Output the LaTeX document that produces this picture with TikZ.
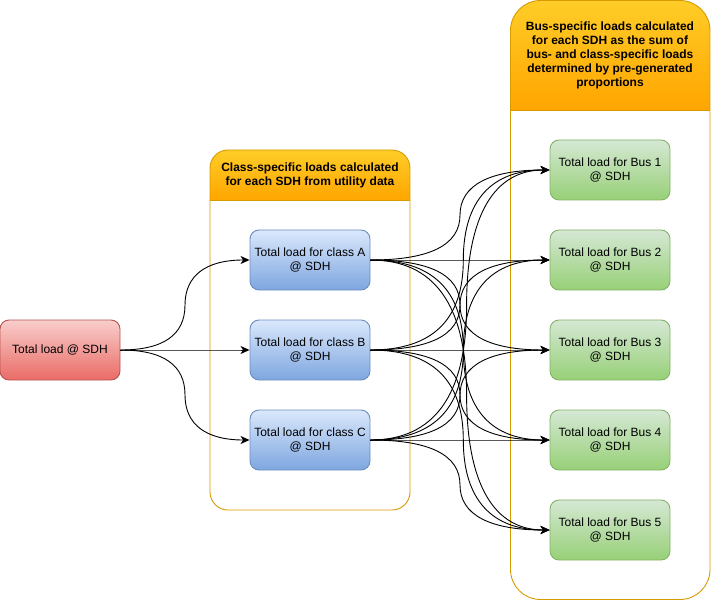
\documentclass[tikz,border=0pt]{standalone}
\usepackage{fontspec}
\setmainfont{Liberation Sans}
\usetikzlibrary{arrows.meta,calc}
\definecolor{redtop}{HTML}{F8CECC}
\definecolor{redbot}{HTML}{EA6B66}
\definecolor{redline}{HTML}{B85450}
\definecolor{bluetop}{HTML}{DAE8FC}
\definecolor{bluebot}{HTML}{7EA6E0}
\definecolor{blueline}{HTML}{6C8EBF}
\definecolor{greentop}{HTML}{D5E8D4}
\definecolor{greenbot}{HTML}{97D077}
\definecolor{greenline}{HTML}{82B366}
\definecolor{hdrtop}{HTML}{FFCD28}
\definecolor{hdrbot}{HTML}{FFA500}
\definecolor{hdrline}{HTML}{D79B00}
\begin{document}
\begin{tikzpicture}[x=1pt,y=-1pt,
  box/.style={draw, rounded corners=9pt, minimum width=120pt, minimum height=60pt,
    align=center, inner sep=0pt, line width=0.9pt, font=\fontsize{12}{14.3}\selectfont},
  redbox/.style={box, draw=redline, top color=redtop, bottom color=redbot},
  bluebox/.style={box, draw=blueline, top color=bluetop, bottom color=bluebot},
  greenbox/.style={box, draw=greenline, top color=greentop, bottom color=greenbot},
  container/.style={draw=hdrline, line width=0.9pt, inner sep=0pt},
  hdrtext/.style={align=center, inner sep=0pt, font=\bfseries\fontsize{12}{14}\selectfont},
  edge/.style={line width=0.9pt, -{Stealth[length=9pt,width=8pt,inset=2.5pt]}}
]
\useasboundingbox (0,0) rectangle (711,601);

% container 1
\begin{scope}
  \clip[rounded corners=18pt] (210,150) rectangle (410,510);
  \shade[top color=hdrtop, bottom color=hdrbot] (210,150) rectangle (410,200);
\end{scope}
\node[container, rounded corners=18pt, minimum width=200pt, minimum height=360pt] (grp1) at (310,330) {};
\draw[hdrline, line width=0.9pt] (210,200) -- (410,200);
\node[hdrtext] (h1) at (310,175) {Class-specific loads calculated\\for each SDH from utility data};

% container 2
\begin{scope}
  \clip[rounded corners=30pt] (510.5,0.5) rectangle (710,599.5);
  \shade[top color=hdrtop, bottom color=hdrbot] (510,0) rectangle (710,110);
\end{scope}
\node[container, rounded corners=30pt, minimum width=199.5pt, minimum height=599pt] (grp2) at (610.25,300) {};
\draw[hdrline, line width=0.9pt] (510.5,110) -- (710,110);
\node[hdrtext] (h2) at (610,55) {Bus-specific loads calculated\\for each SDH as the sum of\\bus- and class-specific loads\\determined by pre-generated\\proportions};

% nodes
\node[redbox] (tot) at (60,350) {Total load @ SDH};
\node[bluebox] (cA) at (310,260) {Total load for class A\\@ SDH};
\node[bluebox] (cB) at (310,350) {Total load for class B\\@ SDH};
\node[bluebox] (cC) at (310,440) {Total load for class C\\@ SDH};
\foreach \b in {1,...,5}{
  \pgfmathsetmacro\yy{80+90*\b}
  \node[greenbox] (b\b) at (610,\yy) {Total load for Bus \b\\@ SDH};
}

% edges from total
\foreach \c/\ci in {A/1,B/2,C/3}{
  \pgfmathsetmacro\ya{350}
  \pgfmathsetmacro\yb{170+90*\ci}
  \pgfmathsetmacro\mx{185}
  \pgfmathsetmacro\ym{(\ya+\yb)/2}
  \pgfmathsetmacro\cax{120+2/3*(\mx-120)}
  \pgfmathsetmacro\cby{\ym+2/3*(\ya-\ym)}
  \pgfmathsetmacro\ccy{\ym+2/3*(\yb-\ym)}
  \pgfmathsetmacro\cdx{250+2/3*(\mx-250)}
  \draw[edge] (tot.east) .. controls (\cax,\ya) and (\mx,\cby) .. (\mx,\ym)
     .. controls (\mx,\ccy) and (\cdx,\yb) .. (c\c.west);
}

% edges from classes to buses
\foreach \c/\ci in {A/1,B/2,C/3}{
  \foreach \b in {1,...,5}{
    \pgfmathsetmacro\ya{170+90*\ci}
    \pgfmathsetmacro\yb{80+90*\b}
    \pgfmathsetmacro\dd{max(abs(\b-\ci-1)-1,0)}
    \pgfmathsetmacro\mx{460+3.3*\dd}
    \pgfmathsetmacro\ym{(\ya+\yb)/2}
    \pgfmathsetmacro\cax{370+2/3*(\mx-370)}
    \pgfmathsetmacro\cby{\ym+2/3*(\ya-\ym)}
    \pgfmathsetmacro\ccy{\ym+2/3*(\yb-\ym)}
    \pgfmathsetmacro\cdx{550+2/3*(\mx-550)}
    \draw[edge] (c\c.east) .. controls (\cax,\ya) and (\mx,\cby) .. (\mx,\ym)
       .. controls (\mx,\ccy) and (\cdx,\yb) .. (b\b.west);
  }
}
\end{tikzpicture}
\end{document}
